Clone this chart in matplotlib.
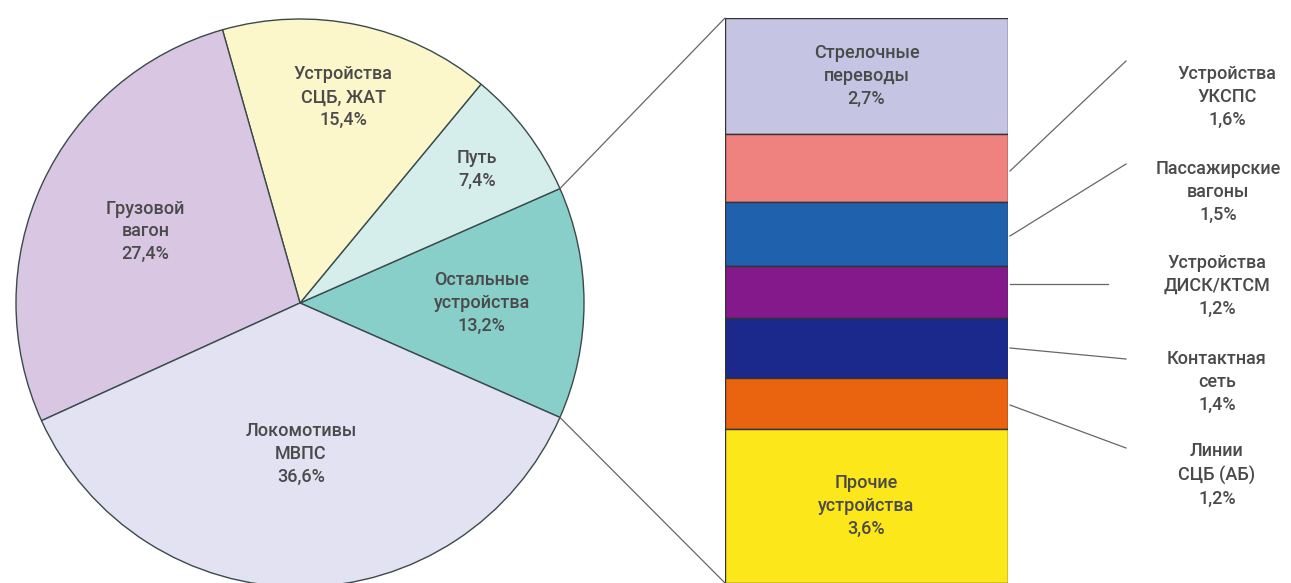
import matplotlib.pyplot as plt
import numpy as np
from matplotlib.patches import ConnectionPatch

plt.rcParams['font.family'] = ['Roboto', 'DejaVu Sans']

# pie: counterclockwise starting from "Остальные устройства"
pie_labels = ['Остальные\nустройства', 'Путь', 'Устройства\nСЦБ, ЖАТ', 'Грузовой\nвагон', 'Локомотивы\nМВПС']
pie_values = [13.2, 7.4, 15.4, 27.4, 36.6]
pie_colors = ['#88cec9', '#d6eeeb', '#fbf7cb', '#d8c6e2', '#e2e2f2']
label_r = [0.64, 0.78, 0.74, 0.60, 0.53]

# bar: breakdown of "Остальные устройства", top to bottom
bar_labels = ['Стрелочные\nпереводы', 'Устройства\nУКСПС', 'Пассажирские\nвагоны', 'Устройства\nДИСК/КТСМ',
              'Контактная\nсеть', 'Линии\nСЦБ (АБ)', 'Прочие\nустройства']
bar_values = [2.7, 1.6, 1.5, 1.2, 1.4, 1.2, 3.6]
bar_colors = ['#c5c4e2', '#ef817f', '#2061ad', '#83198a', '#1a298b', '#ea6410', '#fbe71a']
bar_inside = [True, False, False, False, False, False, True]

W, H = 1291, 583
fig = plt.figure(figsize=(W / 100, H / 100), dpi=100)
txt = '#4a4a4a'
fs = 13
ls = 1.35

def fig_box(x0, y0, x1, y1):
    # pixel box (top-left origin) -> figure fraction rect
    return [x0 / W, (H - y1) / H, (x1 - x0) / W, (y1 - y0) / H]

# pie axes
cx, cy, r = 300, 303, 284
ax_pie = fig.add_axes(fig_box(cx - r, cy - r, cx + r, cy + r))
start = -pie_values[0] / 2 * 3.6
wedges, _ = ax_pie.pie(pie_values, colors=pie_colors, startangle=start, counterclock=True,
                       wedgeprops=dict(edgecolor='#3a4a4a', linewidth=1.0))
ax_pie.set_xlim(-1, 1)
ax_pie.set_ylim(-1, 1)
for w, lab, v, lr in zip(wedges, pie_labels, pie_values, label_r):
    mid = np.deg2rad((w.theta1 + w.theta2) / 2)
    ax_pie.text(lr * np.cos(mid), lr * np.sin(mid), f'{lab}\n{str(v).replace(".", ",")}%',
                ha='center', va='center', fontsize=fs, color=txt, linespacing=ls,
                fontweight='medium')

# bar axes
ax_bar = fig.add_axes(fig_box(725, 18, 1008, 583))
total = sum(bar_values)
bottoms = total - np.cumsum(bar_values)
ax_bar.bar(0, bar_values, bottom=bottoms, width=1.0, color=bar_colors,
           edgecolor='#333333', linewidth=1.0, align='edge')
ax_bar.set_xlim(0, 1)
ax_bar.set_ylim(0, total)
ax_bar.axis('off')

# right-side label positions (pixels) and leader line ends
side_text = [None, (1227, 97), (1218, 192), (1217, 286), (1217, 382), (1217, 475), None]
line_end = [None, (1126, 61), (1126, 164), (1108, 284), (1126, 359), (1126, 448), None]
line_start_y = [None, 171, 236, 284, 348, 405, None]

for i, (lab, v) in enumerate(zip(bar_labels, bar_values)):
    s = f'{lab}\n{str(v).replace(".", ",")}%'
    if bar_inside[i]:
        ax_bar.text(0.5, bottoms[i] + v / 2, s, ha='center', va='center',
                    fontsize=fs, color=txt, linespacing=ls, fontweight='medium')
    else:
        tx, ty = side_text[i]
        fig.text(tx / W, 1 - ty / H, s, ha='center', va='center',
                 fontsize=fs, color=txt, linespacing=ls, fontweight='medium')
        ex, ey = line_end[i]
        fig.add_artist(plt.Line2D([1010 / W, ex / W], [1 - line_start_y[i] / H, 1 - ey / H],
                                  color='#666666', linewidth=0.9))

# connectors from the "Остальные" wedge to the bar
w0 = wedges[0]
t1, t2 = np.deg2rad(w0.theta1), np.deg2rad(w0.theta2)
fig.add_artist(ConnectionPatch((np.cos(t2), np.sin(t2)), (0, total), coordsA=ax_pie.transData,
                               coordsB=ax_bar.transData, color='#666666', linewidth=0.9))
fig.add_artist(ConnectionPatch((np.cos(t1), np.sin(t1)), (0, 0), coordsA=ax_pie.transData,
                               coordsB=ax_bar.transData, color='#666666', linewidth=0.9))

fig.savefig('out.png', dpi=100, facecolor='white')
